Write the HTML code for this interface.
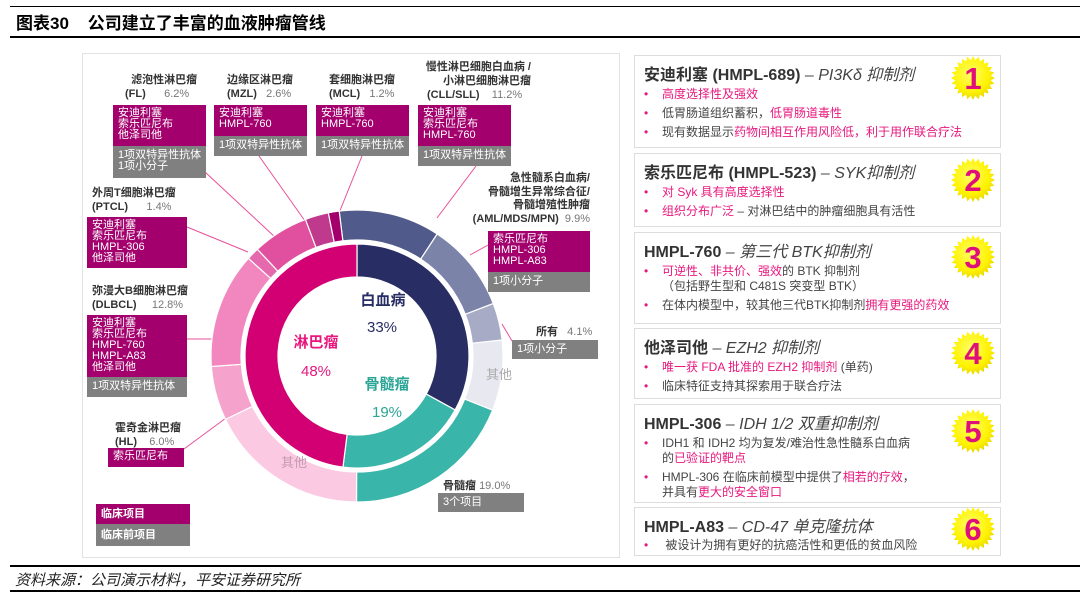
<!DOCTYPE html>
<html><head><meta charset="utf-8">
<style>
body{margin:0;width:1080px;height:596px;background:#fff;position:relative;overflow:hidden;font-family:"Liberation Sans","Noto Sans CJK SC",sans-serif;color:#333}
.abs{position:absolute}
.mag{background:#a3006d;color:#fff;font-size:11px;line-height:11px;padding:3px 5px;box-sizing:border-box;white-space:nowrap}
.gry{background:#808080;color:#fff;font-size:11px;line-height:11px;padding:4px 5px;box-sizing:border-box;white-space:nowrap}
.lab{font-size:11px;line-height:14px;color:#333;font-weight:bold;white-space:nowrap}
.lab span{font-weight:normal;color:#777}
.card{position:absolute;left:634px;width:367px;border:1.5px solid #ddd;box-sizing:border-box;background:#fff}
.card h3{margin:0;position:absolute;left:9px;top:5px;font-size:16px;font-weight:bold;color:#333;white-space:nowrap}
.card h3 i{font-weight:normal;color:#444}
.card ul{margin:0;padding:0;list-style:none;position:absolute;left:9px;font-size:12px;line-height:15px;color:#444}
.card li{position:relative;padding-left:18px;margin-bottom:4px}
.card li:before{content:"•";position:absolute;left:0;color:#e8177d}
.p{color:#e8177d}
</style></head><body>
<div class="abs" style="left:10px;top:6px;width:1070px;height:1px;background:#000"></div>
<div class="abs" style="left:16px;top:9px;font-size:17px;font-weight:bold;color:#000;white-space:nowrap">图表30&nbsp;&nbsp;&nbsp; 公司建立了丰富的血液肿瘤管线</div>
<div class="abs" style="left:10px;top:36px;width:1070px;height:2px;background:#000"></div>

<div class="abs" style="left:82px;top:53px;width:538px;height:505px;border:1.5px solid #e2e2e2;box-sizing:border-box"></div>

<svg id="donut" class="abs" style="left:0;top:0" width="640" height="596"></svg>

<div class="abs lab" style="left:125px;top:73px">&nbsp;&nbsp;滤泡性淋巴瘤<br>(FL)&nbsp;&nbsp;&nbsp;&nbsp;&nbsp;&nbsp;<span>6.2%</span></div>
<div class="abs mag" style="left:113px;top:105px;width:93px;height:41px">安迪利塞<br>索乐匹尼布<br>他泽司他</div>
<div class="abs gry" style="left:113px;top:146px;width:93px;height:32px">1项双特异性抗体<br>1项小分子</div>

<div class="abs lab" style="left:227px;top:73px">边缘区淋巴瘤<br>(MZL)&nbsp;&nbsp;&nbsp;<span>2.6%</span></div>
<div class="abs mag" style="left:214px;top:105px;width:93px;height:31px">安迪利塞<br>HMPL-760</div>
<div class="abs gry" style="left:214px;top:136px;width:93px;height:20px">1项双特异性抗体</div>

<div class="abs lab" style="left:329px;top:73px">套细胞淋巴瘤<br>(MCL)&nbsp;&nbsp;&nbsp;<span>1.2%</span></div>
<div class="abs mag" style="left:316px;top:105px;width:93px;height:31px">安迪利塞<br>HMPL-760</div>
<div class="abs gry" style="left:316px;top:136px;width:93px;height:20px">1项双特异性抗体</div>

<div class="abs lab" style="left:400px;top:60px;text-align:right;width:131px">慢性淋巴细胞白血病 /<br>小淋巴细胞淋巴瘤</div>
<div class="abs lab" style="left:427px;top:88px">(CLL/SLL)&nbsp;&nbsp;&nbsp;&nbsp;<span>11.2%</span></div>
<div class="abs mag" style="left:418px;top:105px;width:93px;height:41px">安迪利塞<br>索乐匹尼布<br>HMPL-760</div>
<div class="abs gry" style="left:418px;top:146px;width:93px;height:20px">1项双特异性抗体</div>

<div class="abs lab" style="left:92px;top:186px">外周T细胞淋巴瘤<br>(PTCL)&nbsp;&nbsp;&nbsp;&nbsp;&nbsp;&nbsp;<span>1.4%</span></div>
<div class="abs mag" style="left:87px;top:217px;width:100px;height:51px">安迪利塞<br>索乐匹尼布<br>HMPL-306<br>他泽司他</div>

<div class="abs lab" style="left:92px;top:284px">弥漫大B细胞淋巴瘤<br>(DLBCL)&nbsp;&nbsp;&nbsp;&nbsp;&nbsp;<span>12.8%</span></div>
<div class="abs mag" style="left:87px;top:315px;width:100px;height:62px">安迪利塞<br>索乐匹尼布<br>HMPL-760<br>HMPL-A83<br>他泽司他</div>
<div class="abs gry" style="left:87px;top:377px;width:100px;height:20px">1项双特异性抗体</div>

<div class="abs lab" style="left:115px;top:421px">霍奇金淋巴瘤<br>(HL)&nbsp;&nbsp;&nbsp;&nbsp;<span>6.0%</span></div>
<div class="abs mag" style="left:108px;top:448px;width:76px;height:19px">索乐匹尼布</div>

<div class="abs lab" style="left:460px;top:172px;text-align:right;width:130px;line-height:13.5px">急性髓系白血病/<br>骨髓增生异常综合征/<br>骨髓增殖性肿瘤<br>(AML/MDS/MPN)&nbsp;&nbsp;<span>9.9%</span></div>
<div class="abs mag" style="left:488px;top:231px;width:102px;height:41px">索乐匹尼布<br>HMPL-306<br>HMPL-A83</div>
<div class="abs gry" style="left:488px;top:272px;width:102px;height:20px">1项小分子</div>

<div class="abs lab" style="left:536px;top:325px">所有&nbsp;&nbsp;&nbsp;<span>4.1%</span></div>
<div class="abs gry" style="left:512px;top:340px;width:86px;height:19px">1项小分子</div>

<div class="abs lab" style="left:443px;top:479px">骨髓瘤&nbsp;<span>19.0%</span></div>
<div class="abs gry" style="left:438px;top:493px;width:86px;height:19px">3个项目</div>

<div class="abs mag" style="left:96px;top:504px;width:94px;height:20px;font-weight:bold;font-size:11px;line-height:14px">临床项目</div>
<div class="abs gry" style="left:96px;top:524px;width:94px;height:22px;font-weight:bold;font-size:11px;line-height:14px">临床前项目</div>

<div class="card" style="top:55px;height:93px">
<h3>安迪利塞 (HMPL-689) <i>– PI3Kδ 抑制剂</i></h3>
<ul style="top:31px"><li class="p">高度选择性及强效</li><li>低胃肠道组织蓄积，<span class="p">低胃肠道毒性</span></li><li>现有数据显示<span class="p">药物间相互作用风险低，利于用作联合疗法</span></li></ul></div>
<div class="card" style="top:153px;height:74px">
<h3>索乐匹尼布 (HMPL-523) <i>– SYK抑制剂</i></h3>
<ul style="top:31px"><li class="p">对 Syk 具有高度选择性</li><li><span class="p">组织分布广泛</span> – 对淋巴结中的肿瘤细胞具有活性</li></ul></div>
<div class="card" style="top:232px;height:92px">
<h3>HMPL-760 <i>– 第三代 BTK抑制剂</i></h3>
<ul style="top:31px"><li><span class="p">可逆性、非共价、强效</span>的 BTK 抑制剂<br>（包括野生型和 C481S 突变型 BTK）</li><li>在体内模型中，较其他三代BTK抑制剂<span class="p">拥有更强的药效</span></li></ul></div>
<div class="card" style="top:328px;height:71px">
<h3>他泽司他 <i>– EZH2 抑制剂</i></h3>
<ul style="top:31px"><li><span class="p">唯一获 FDA 批准的 EZH2 抑制剂</span> (单药)</li><li>临床特征支持其探索用于联合疗法</li></ul></div>
<div class="card" style="top:404px;height:99px">
<h3>HMPL-306 <i>– IDH 1/2 双重抑制剂</i></h3>
<ul style="top:31px"><li>IDH1 和 IDH2 均为复发/难治性急性髓系白血病<br>的<span class="p">已验证的靶点</span></li><li>HMPL-306 在临床前模型中提供了<span class="p">相若的疗效</span>，<br>并具有<span class="p">更大的安全窗口</span></li></ul></div>
<div class="card" style="top:507px;height:49px">
<h3>HMPL-A83 <i>– CD-47 单克隆抗体</i></h3>
<ul style="top:30px"><li>&nbsp;被设计为拥有更好的抗癌活性和更低的贫血风险</li></ul></div>

<svg class="abs" style="left:0;top:0" width="1080" height="596" id="stars"></svg>

<div class="abs" style="left:10px;top:565px;width:1070px;height:2px;background:#000"></div>
<div class="abs" style="left:15px;top:569px;font-size:15px;font-style:italic;color:#222">资料来源：公司演示材料，平安证券研究所</div>
<div class="abs" style="left:10px;top:590px;width:1070px;height:2px;background:#000"></div>

<script>
const innerNames = ['白血病','骨髓瘤','淋巴瘤'];
const innerValues = [33, 19, 48];
const innerColors = ['#282d63','#3ab5a9','#d20072'];
const outerNames = ['CLL/SLL','AML/MDS/MPN','所有','其他-白血病','骨髓瘤','其他-淋巴瘤','HL','DLBCL','PTCL','FL','MZL','MCL'];
const outerValues = [11.2, 9.9, 4.1, 7.8, 19.0, 17.8, 6.0, 12.8, 1.4, 6.2, 2.6, 1.2];
const outerColors = ['#515b8b','#7c83a9','#a7abc6','#e7e8f0','#3ab5a9','#fbcae2','#f5a3cd','#f286be','#e56aad','#e0509e','#bf3a8c','#a3006d'];
const outerStartDeg = -7;

const NS='http://www.w3.org/2000/svg';
const cx=357, cy=356;
const svg=document.getElementById('donut');
function pt(r,deg){const a=(deg-90)*Math.PI/180;return [cx+r*Math.cos(a),cy+r*Math.sin(a)];}
function arc(r0,r1,a0,a1){
  const large=(a1-a0)>180?1:0;
  const p0=pt(r1,a0),p1=pt(r1,a1),p2=pt(r0,a1),p3=pt(r0,a0);
  return `M${p0}A${r1},${r1} 0 ${large} 1 ${p1}L${p2}A${r0},${r0} 0 ${large} 0 ${p3}Z`;
}
function ring(vals,cols,names,r0,r1,start,prefix){
  const tot=vals.reduce((a,b)=>a+b,0);let a=start;
  vals.forEach((v,i)=>{
    const span=v/tot*360; if(span<=0){return;}
    const p=document.createElementNS(NS,'path');
    p.setAttribute('d',arc(r0,r1,a,a+span));
    p.setAttribute('fill',cols[i]);p.setAttribute('stroke','#fff');p.setAttribute('stroke-width','1.2');
    
    
    svg.appendChild(p);a+=span;
  });
}
const lines=[[205,172,276,238],[259,156,310,228],[362,156,337,218],[476,166,437,218],[488,245,470,255],[512,341,502,324],[187,227,248,252],[187,339,213,339],[184,449,226,418]];
lines.forEach((l,i)=>{
  const e=document.createElementNS(NS,'line');
  e.setAttribute('x1',l[0]);e.setAttribute('y1',l[1]);e.setAttribute('x2',l[2]);e.setAttribute('y2',l[3]);
  e.setAttribute('stroke','#e8509a');e.setAttribute('stroke-width','1');
  
  
  svg.appendChild(e);
});
ring(outerValues,outerColors,outerNames,116,146,outerStartDeg,'outer');
ring(innerValues,innerColors,innerNames,79,112,0,'inner');
function txt(x,y,s,size,col,bold,name){
  const t=document.createElementNS(NS,'text');
  t.setAttribute('x',x);t.setAttribute('y',y);t.setAttribute('font-size',size);t.setAttribute('fill',col);
  t.setAttribute('text-anchor','middle');if(bold)t.setAttribute('font-weight','bold');
  t.setAttribute('font-family','"Liberation Sans","Noto Sans CJK SC",sans-serif');
  t.textContent=s;
  
  
  svg.appendChild(t);
}
txt(383,305,innerNames[0],15,'#282d63',true,'leukemia-label');
txt(382,332,innerValues[0]+'%',15,'#282d63',false,'leukemia-pct');
txt(316,347,innerNames[2],15,'#e8177d',true,'lymphoma-label');
txt(316,376,innerValues[2]+'%',15,'#e8177d',false,'lymphoma-pct');
txt(387,389,innerNames[1],15,'#2aa596',true,'myeloma-center-label');
txt(387,417,innerValues[1]+'%',15,'#2aa596',false,'myeloma-pct');
txt(499,379,'其他',13,'#aaa',false,'other-leukemia-label');
txt(294,467,'其他',13,'#c59ab0',false,'other-lymphoma-label');

const ss=document.getElementById('stars');
const defs=document.createElementNS(NS,'defs');
defs.innerHTML='<radialGradient id="yg" cx="45%" cy="40%" r="60%"><stop offset="0" stop-color="#ffff66"/><stop offset="0.7" stop-color="#fff200"/><stop offset="1" stop-color="#e8d800"/></radialGradient>';
ss.appendChild(defs);
const badgeNums=['1','2','3','4','5','6'];
const badgeY=[78,180,257,353,431,529];
badgeNums.forEach((n,i)=>{
  const x0=973,y0=badgeY[i];let d='';
  for(let k=0;k<48;k++){const r=k%2?18:22;const a=k*Math.PI/24;d+=(k?'L':'M')+(x0+r*Math.cos(a)).toFixed(1)+','+(y0+r*Math.sin(a)).toFixed(1);}
  const p=document.createElementNS(NS,'path');p.setAttribute('d',d+'Z');p.setAttribute('fill','url(#yg)');
  
  
  ss.appendChild(p);
  const t=document.createElementNS(NS,'text');t.setAttribute('x',x0);t.setAttribute('y',y0+11);
  t.setAttribute('text-anchor','middle');t.setAttribute('font-size','31');t.setAttribute('font-weight','bold');
  t.setAttribute('fill','#e0107a');t.setAttribute('font-family','"Liberation Sans",sans-serif');t.textContent=n;
  
  
  ss.appendChild(t);
});
</script>
</body></html>
